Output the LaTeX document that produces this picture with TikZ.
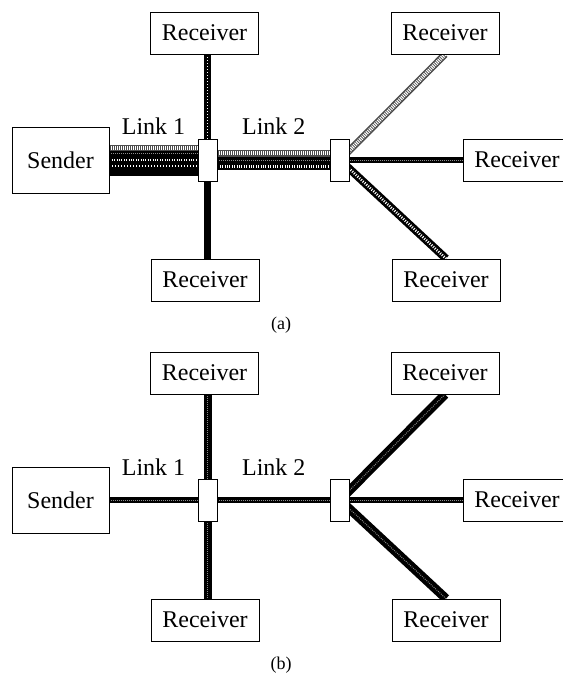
\documentclass[tikz,border=0pt]{standalone}
\usepackage{fontspec}
\setmainfont{Liberation Serif}
\usetikzlibrary{positioning, calc, backgrounds}

\begin{document}
\begin{tikzpicture}[x=1pt, y=-1pt,
    host/.style={rectangle, draw, line width=0.8pt, fill=white, minimum width=108pt, minimum height=42pt, inner sep=0pt, font=\fontsize{24}{28}\selectfont},
    sender/.style={host, minimum width=97pt, minimum height=66pt},
    router/.style={rectangle, draw, line width=0.8pt, fill=white, minimum width=19pt, minimum height=42pt, inner sep=0pt},
    linklabel/.style={inner sep=0pt, font=\fontsize{24}{28}\selectfont},
    caption/.style={inner sep=0pt, font=\fontsize{18}{22}\selectfont},
    solidflow/.style={draw=black, line width=6pt},
    dotflow/.style={draw=black, line width=6pt, postaction={draw=black!45, line width=1pt, dash pattern=on 0.8pt off 1.2pt}},
    lightflow/.style={draw=black!70, line width=6pt, postaction={draw=white, line width=4pt, dash pattern=on 1pt off 1pt}},
    checkflow/.style={draw=black, line width=6pt, postaction={draw=white, line width=2.6pt, dash pattern=on 1pt off 1.4pt}},
    darkcheck/.style={draw=black, line width=6pt, postaction={draw=white, line width=1.6pt, dash pattern=on 1pt off 2pt}}
]
    \useasboundingbox (0,0) rectangle (562,677);

    % (a) several layered flows
    \node[sender] (sA) at (60.5,160) {Sender};
    \node[router] (rA1) at (207.5,160) {};
    \node[router] (rA2) at (340,160) {};
    \node[host] (rxA1) at (204.5,33) {Receiver};
    \node[host] (rxA2) at (445,33) {Receiver};
    \node[host] (rxA3) at (517,160) {Receiver};
    \node[host] (rxA4) at (205,280) {Receiver};
    \node[host] (rxA5) at (446,280) {Receiver};

    \begin{scope}[on background layer]
        % link 1 carries every flow
        \draw[lightflow, line width=6.2pt] ([yshift=12.4pt]sA.east) -- ([yshift=12.4pt]rA1.west);
        \draw[dotflow, line width=6.2pt] ([yshift=6.2pt]sA.east) -- ([yshift=6.2pt]rA1.west);
        \draw[checkflow, line width=6.2pt] (sA.east) -- node[linklabel, above=22pt] (lA1) {Link 1} (rA1.west);
        \draw[darkcheck, line width=6.2pt] ([yshift=-6.2pt]sA.east) -- ([yshift=-6.2pt]rA1.west);
        \draw[solidflow, line width=6.2pt] ([yshift=-12.4pt]sA.east) -- ([yshift=-12.4pt]rA1.west);

        % link 2 carries three flows
        \draw[lightflow, line width=6.7pt] ([yshift=6.7pt]rA1.east) -- ([yshift=6.7pt]rA2.west);
        \draw[dotflow, line width=6.7pt] (rA1.east) -- node[linklabel, above=22pt] (lA2) {Link 2} (rA2.west);
        \draw[checkflow, line width=6.7pt] ([yshift=-6.7pt]rA1.east) -- ([yshift=-6.7pt]rA2.west);

        \draw[darkcheck, line width=7pt] (rA1) -- (rA1 |- rxA1.south);
        \draw[solidflow, line width=7pt] (rA1) -- (rA1 |- rxA4.north);
        \draw[lightflow, line width=7pt] (rA2.center) -- (rxA2.south);
        \draw[dotflow, line width=6pt] (rA2.center) -- (rxA3.west);
        \draw[checkflow, line width=8pt] (rA2.center) -- (rxA5.north);
    \end{scope}

    \node[caption] (capA) at (281,325) {(a)};

    % (b) one shared flow
    \node[sender] (sB) at (60.5,500) {Sender};
    \node[router] (rB1) at (207.5,500) {};
    \node[router] (rB2) at (340,500) {};
    \node[host] (rxB1) at (204.5,373) {Receiver};
    \node[host] (rxB2) at (445,373) {Receiver};
    \node[host] (rxB3) at (517,500) {Receiver};
    \node[host] (rxB4) at (205,620) {Receiver};
    \node[host] (rxB5) at (446,620) {Receiver};

    \begin{scope}[on background layer]
        \draw[dotflow] (sB.east) -- node[linklabel, above=22pt] (lB1) {Link 1} (rB1.west);
        \draw[dotflow] (rB1.east) -- node[linklabel, above=22pt] (lB2) {Link 2} (rB2.west);
        \draw[dotflow, line width=8pt] (rB1) -- (rB1 |- rxB1.south);
        \draw[dotflow, line width=8pt] (rB1) -- (rB1 |- rxB4.north);
        \draw[dotflow, line width=9pt] (rB2.center) -- (rxB2.south);
        \draw[dotflow, line width=6.5pt] (rB2.center) -- (rxB3.west);
        \draw[dotflow, line width=9pt] (rB2.center) -- (rxB5.north);
    \end{scope}

    \node[caption] (capB) at (281,665) {(b)};
\end{tikzpicture}
\end{document}
